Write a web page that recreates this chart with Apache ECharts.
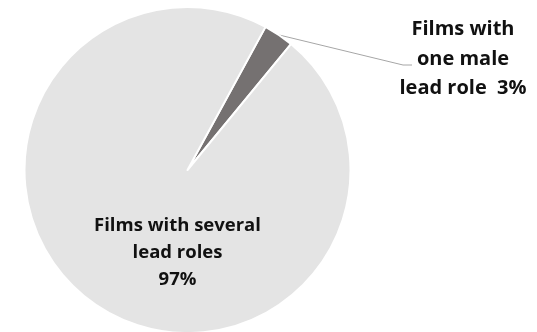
<!DOCTYPE html>
<html>
<head>
<meta charset="utf-8">
<script src="https://cdn.jsdelivr.net/npm/echarts@6/dist/echarts.min.js"></script>
<style>
  html, body { margin: 0; padding: 0; background: #ffffff; }
  #chart { width: 537px; height: 332px; }
</style>
</head>
<body>
<div id="chart"></div>
<script>
// Share of films by number of lead roles
const categories = ['Films with\none male\nlead role', 'Films with several\nlead roles'];
const shares = [3, 97];
const sliceColors = ['#757171', '#e4e4e4'];

const chart = echarts.init(document.getElementById('chart'), null, { renderer: 'canvas' });

const FONT = '"Open Sans", sans-serif';

chart.setOption({
  animation: false,
  series: [{
    type: 'pie',
    center: [187.5, 170],
    radius: [0, 163],
    startAngle: 61.4,
    clockwise: true,
    avoidLabelOverlap: false,
    itemStyle: { borderColor: '#ffffff', borderWidth: 2 },
    labelLine: { show: true, lineStyle: { color: '#a6a6a6', width: 1 } },
    data: categories.map((name, i) => ({
      name: name,
      value: shares[i],
      itemStyle: { color: sliceColors[i] },
      label: i === 0
        ? { show: true, position: 'outside', formatter: '{b}  {c}%', fontFamily: FONT, fontWeight: 'bold', fontSize: 20, lineHeight: 29.5, color: '#111111', align: 'center' }
        : { show: true, position: 'inside', formatter: '{b}\n{c}%', fontFamily: FONT, fontWeight: 'bold', fontSize: 18.5, lineHeight: 27, color: '#111111', align: 'center' },
      labelLine: { show: i === 0 }
    })),
    labelLayout: function (params) {
      if (params.dataIndex === 0) {
        const lx = 463, ly = 59;
        const start = params.labelLinePoints ? params.labelLinePoints[0] : [279, 35];
        return {
          x: lx, y: ly, align: 'center', verticalAlign: 'middle',
          labelLinePoints: [start, [lx - 60, ly + 6], [lx - 51, ly + 6]]
        };
      }
      return { x: 177.5, y: 252.5, align: 'center', verticalAlign: 'middle' };
    }
  }]
});
</script>
</body>
</html>
